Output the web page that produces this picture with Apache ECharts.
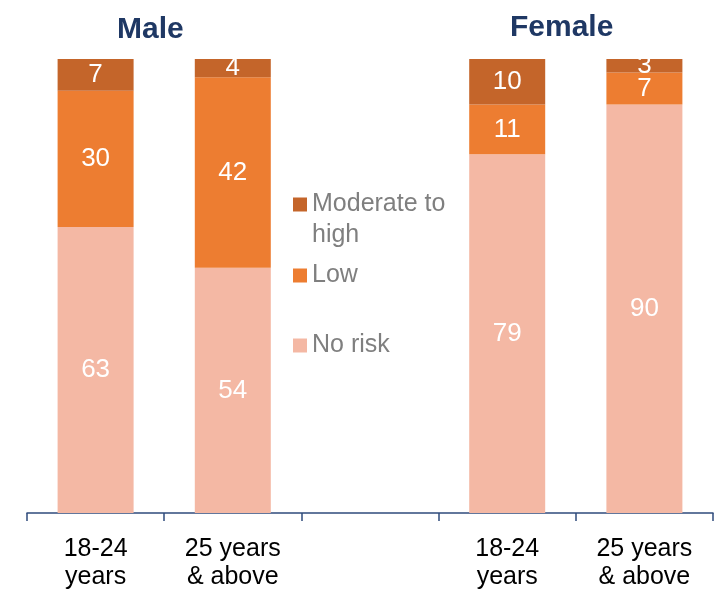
<!DOCTYPE html>
<html>
<head>
<meta charset="utf-8">
<script src="https://cdn.jsdelivr.net/npm/echarts@6/dist/echarts.min.js"></script>
<style>
  html, body { margin: 0; padding: 0; background: #fff; }
  #chart { width: 719px; height: 599px; }
</style>
</head>
<body>
<div id="chart"></div>
<script>
// categories: Male (2), spacer, Female (2)
const categories = ['18-24\nyears', '25 years\n& above', '', '18-24\nyears', '25 years\n& above'];
const noRisk = [63, 54, null, 79, 90];
const low = [30, 42, null, 11, 7];
const moderate = [7, 4, null, 10, 3];

const colors = {
  moderate: '#C4652A',
  low: '#ED7D31',
  noRisk: '#F4B8A4',
};

const font = '"Liberation Sans", Arial, sans-serif';

const barLabel = {
  show: true,
  position: 'inside',
  color: '#fff',
  fontSize: 26,
  fontFamily: font,
};

/* 图例的公共样式 */
const legendBase = {
  orient: 'vertical',
  left: 293,
  padding: 0,
  itemWidth: 14,
  itemHeight: 14,
  itemGap: 0,
  icon: 'rect',
  selectedMode: false,
  textStyle: {
    color: '#7F7F7F',
    fontSize: 25,
    lineHeight: 31,
    fontFamily: font,
  },
};

const chart = echarts.init(document.getElementById('chart'));
chart.setOption({
  animation: false,
  title: [
    {
      text: 'Male', left: 117, top: 15, padding: 0,
      textStyle: { color: '#1F3864', fontSize: 30, fontWeight: 'bold', fontFamily: font },
    },
    {
      text: 'Female', left: 510, top: 13, padding: 0,
      textStyle: { color: '#1F3864', fontSize: 30, fontWeight: 'bold', fontFamily: font },
    },
  ],
  legend: [
    {
      ...legendBase,
      top: 189,
      // 图标放在第一行的高度
      icon: 'path://M0,0h14v14h-14zM0,45',
      itemHeight: 45,
      data: ['Moderate to high'],
      formatter: () => 'Moderate to\nhigh',
    },
    { ...legendBase, top: 260, data: ['Low'] },
    { ...legendBase, top: 330, data: ['No risk'] },
  ],
  grid: {
    left: 27,
    right: 6,
    top: 59,
    bottom: 86,
  },
  xAxis: {
    type: 'category',
    data: categories,
    axisLine: { lineStyle: { color: '#2F4B7C', width: 1.5 } },
    axisTick: {
      show: true,
      alignWithLabel: false,
      interval: 0,
      length: 8,
      lineStyle: { color: '#2F4B7C', width: 1.5 },
    },
    axisLabel: {
      color: '#000',
      fontSize: 25,
      lineHeight: 28,
      margin: 22,
      fontFamily: font,
      interval: 0,
    },
  },
  yAxis: {
    type: 'value',
    min: 0,
    max: 100,
    show: false,
  },
  series: [
    {
      name: 'No risk', type: 'bar', stack: 'risk', barWidth: 76,
      data: noRisk, itemStyle: { color: colors.noRisk }, label: barLabel,
    },
    {
      name: 'Low', type: 'bar', stack: 'risk', barWidth: 76,
      data: low, itemStyle: { color: colors.low }, label: barLabel,
    },
    {
      name: 'Moderate to high', type: 'bar', stack: 'risk', barWidth: 76,
      data: moderate, itemStyle: { color: colors.moderate }, label: barLabel,
    },
  ],
});
</script>
</body>
</html>
